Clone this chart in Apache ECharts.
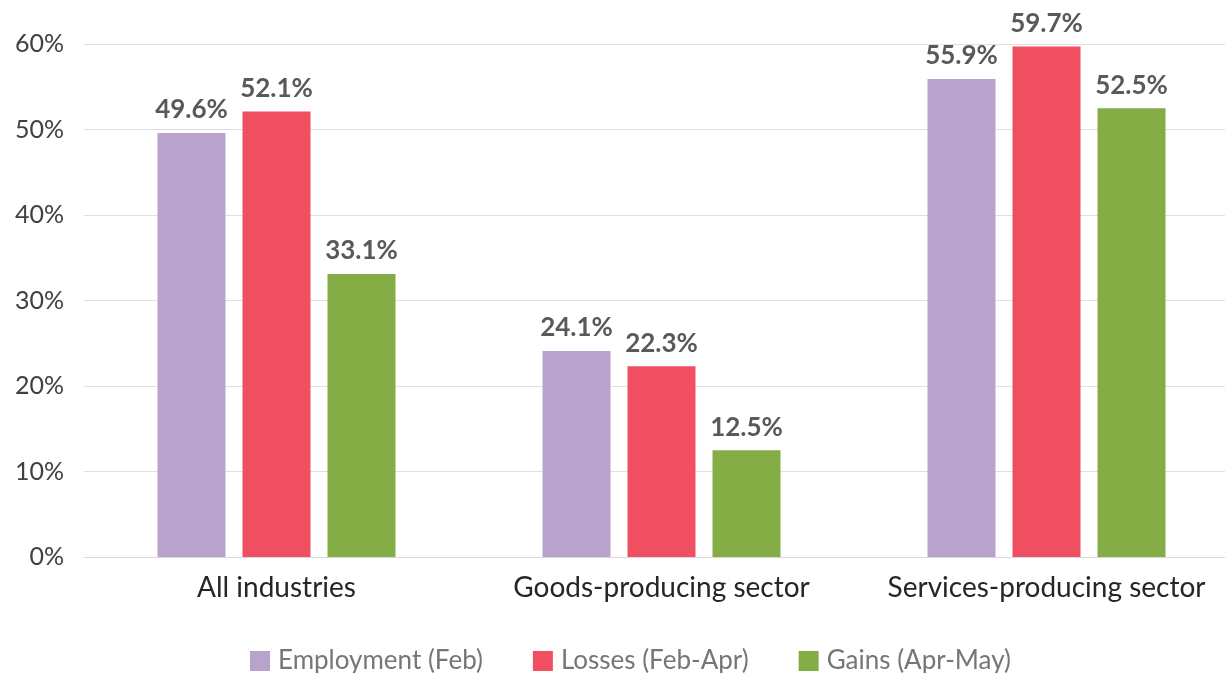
<!DOCTYPE html>
<html><head><meta charset="utf-8">
<script src="https://cdn.jsdelivr.net/npm/echarts@6/dist/echarts.min.js"></script>
<style>html,body{margin:0;padding:0;background:#fff}#c{width:1225px;height:673px}</style>
</head><body><div id="c"></div>
<script>
const categories = ['All industries', 'Goods-producing sector', 'Services-producing sector'];
const employment = [49.6, 24.1, 55.9];
const losses = [52.1, 22.3, 59.7];
const gains = [33.1, 12.5, 52.5];
const seriesNames = ['Employment (Feb)', 'Losses (Feb-Apr)', 'Gains (Apr-May)'];
const colors = ['#b9a3cd', '#f04f61', '#84ad45'];

const font = 'Lato, "Noto Sans", sans-serif';
const chart = echarts.init(document.getElementById('c'));
function mk(name, data, color) {
  return {
    name, type: 'bar', data, barWidth: 68, barGap: '25%',
    itemStyle: { color },
    label: { show: true, position: 'top', distance: 10, formatter: p => p.value.toFixed(1) + '%',
      color: '#595959', fontSize: 26, fontWeight: 'bold', fontFamily: font }
  };
}
chart.setOption({
  animation: false,
  color: colors,
  grid: { left: 84, top: 44, width: 1155, bottom: 116, outerBoundsMode: 'none', containLabel: false },
  legend: {
    top: 643, left: 245, itemWidth: 20, itemHeight: 20, itemGap: 50,
    icon: 'rect',
    textStyle: { color: '#767676', fontSize: 26, fontFamily: font, padding: [0, 0, 0, 3], lineHeight: 26 },
    data: seriesNames
  },
  xAxis: {
    type: 'category', data: categories,
    axisLine: { lineStyle: { color: '#d9d9d9' } },
    axisTick: { show: false },
    axisLabel: { interval: 0, color: '#262626', fontSize: 28, margin: 17, fontFamily: font },
  },
  yAxis: {
    type: 'value', min: 0, max: 60, interval: 10,
    axisLabel: { formatter: '{value}%', color: '#404040', fontSize: 25, margin: 20, fontFamily: font },
    splitLine: { lineStyle: { color: '#e0e0e0' } },
    axisLine: { show: false }, axisTick: { show: false }
  },
  series: [mk(seriesNames[0], employment, colors[0]), mk(seriesNames[1], losses, colors[1]), mk(seriesNames[2], gains, colors[2])]
});
</script></body></html>
